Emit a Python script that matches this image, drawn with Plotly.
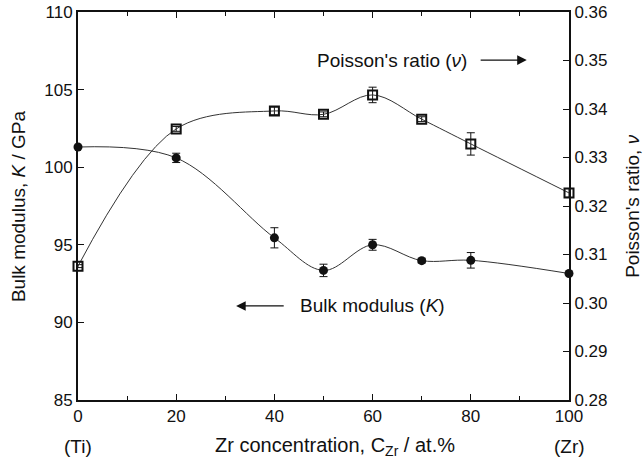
import plotly.graph_objects as go

# Zr content (at.%)
zr = [0, 20, 40, 50, 60, 70, 80, 100]

# Bulk modulus K (GPa) and its scatter
bulk = [101.3, 100.6, 95.45, 93.35, 95.0, 93.98, 94.0, 93.15]
bulk_err = [0.0, 0.3, 0.65, 0.4, 0.35, 0.15, 0.5, 0.0]

# Poisson's ratio and its scatter
poisson = [0.3076, 0.3359, 0.3396, 0.3389, 0.3429, 0.3379, 0.3328, 0.3227]
poisson_err = [0.0003, 0.0005, 0.0008, 0.0005, 0.0016, 0.0005, 0.0023, 0.0009]

FONT = "Liberation Sans, Arial, sans-serif"
INK = "#111111"

fig = go.Figure()

fig.add_trace(go.Scatter(
    x=zr, y=bulk, mode="lines+markers", yaxis="y",
    line=dict(color="#333333", width=1, shape="spline", smoothing=1.0),
    marker=dict(symbol="circle", size=9, color=INK),
    error_y=dict(type="data", array=bulk_err, visible=True,
                 color=INK, thickness=1, width=4),
    showlegend=False, cliponaxis=False,
))

fig.add_trace(go.Scatter(
    x=zr, y=poisson, mode="lines+markers", yaxis="y2",
    line=dict(color="#333333", width=1, shape="spline", smoothing=1.0),
    marker=dict(symbol="square-open", size=9, color=INK,
                line=dict(width=2, color=INK)),
    error_y=dict(type="data", array=poisson_err, visible=True,
                 color=INK, thickness=1, width=4),
    showlegend=False, cliponaxis=False,
))

tick_font = dict(family=FONT, size=17, color=INK)

fig.update_layout(
    width=644, height=464,
    margin=dict(l=78, r=75, t=12, b=64, autoexpand=False),
    paper_bgcolor="white", plot_bgcolor="white",
    font=dict(family=FONT, size=17, color=INK),
    xaxis=dict(
        range=[0, 100], tickvals=[0, 20, 40, 60, 80, 100],
        showgrid=False, zeroline=False, automargin=False,
        showline=True, linecolor=INK, linewidth=2, mirror="ticks",
        ticks="inside", ticklen=6, tickwidth=1, tickcolor=INK,
        minor=dict(tickvals=[10, 30, 50, 70, 90], ticks="inside",
                   ticklen=4, tickwidth=1, tickcolor=INK),
        tickfont=tick_font,
    ),
    yaxis=dict(
        range=[85, 110], dtick=5,
        showgrid=False, zeroline=False, automargin=False,
        showline=True, linecolor=INK, linewidth=2,
        ticks="inside", ticklen=6, tickwidth=1, tickcolor=INK,
        tickfont=tick_font,
    ),
    yaxis2=dict(
        range=[0.28, 0.36], dtick=0.01, tickformat=".2f",
        overlaying="y", side="right",
        showgrid=False, zeroline=False, automargin=False,
        showline=True, linecolor=INK, linewidth=2,
        ticks="inside", ticklen=6, tickwidth=1, tickcolor=INK,
        tickfont=tick_font,
    ),
)

annotations = [
    # axis titles
    dict(text="Bulk modulus, <i>K</i> / GPa", xref="paper", yref="paper",
         x=-0.122, y=0.5, xanchor="center", yanchor="middle",
         textangle=-90, showarrow=False, font=dict(size=19)),
    dict(text="Poisson's ratio, <i>ν</i>", xref="paper", yref="paper",
         x=1.128, y=0.5, xanchor="center", yanchor="middle",
         textangle=-90, showarrow=False, font=dict(size=19)),
    dict(text="Zr concentration, C<sub>Zr</sub> / at.%", xref="paper", yref="paper",
         x=0.523, y=-0.121, xanchor="center", yanchor="middle",
         showarrow=False, font=dict(size=20)),
    dict(text="(Ti)", xref="x", yref="paper", x=0, y=-0.121,
         xanchor="center", yanchor="middle", showarrow=False,
         font=dict(size=19)),
    dict(text="(Zr)", xref="x", yref="paper", x=100, y=-0.121,
         xanchor="center", yanchor="middle", showarrow=False,
         font=dict(size=19)),
    # series labels
    dict(text="Poisson's ratio (<i>ν</i>)", xref="x", yref="y",
         x=48.3, y=106.9, xanchor="left", yanchor="middle",
         showarrow=False, font=dict(size=19)),
    dict(text="Bulk modulus (<i>K</i>)", xref="x", yref="y",
         x=44.8, y=91.06, xanchor="left", yanchor="middle",
         showarrow=False, font=dict(size=19)),
    # arrows pointing to the relevant axis
    dict(text="", xref="x", yref="y", axref="x", ayref="y",
         x=91.4, y=106.9, ax=81.7, ay=106.9,
         showarrow=True, arrowhead=2, arrowsize=1.6, arrowwidth=1.2,
         arrowcolor=INK),
    dict(text="", xref="x", yref="y", axref="x", ayref="y",
         x=32.2, y=91.06, ax=42.2, ay=91.06,
         showarrow=True, arrowhead=2, arrowsize=1.6, arrowwidth=1.2,
         arrowcolor=INK),
]
fig.update_layout(annotations=annotations)

fig.write_html("out.html")
